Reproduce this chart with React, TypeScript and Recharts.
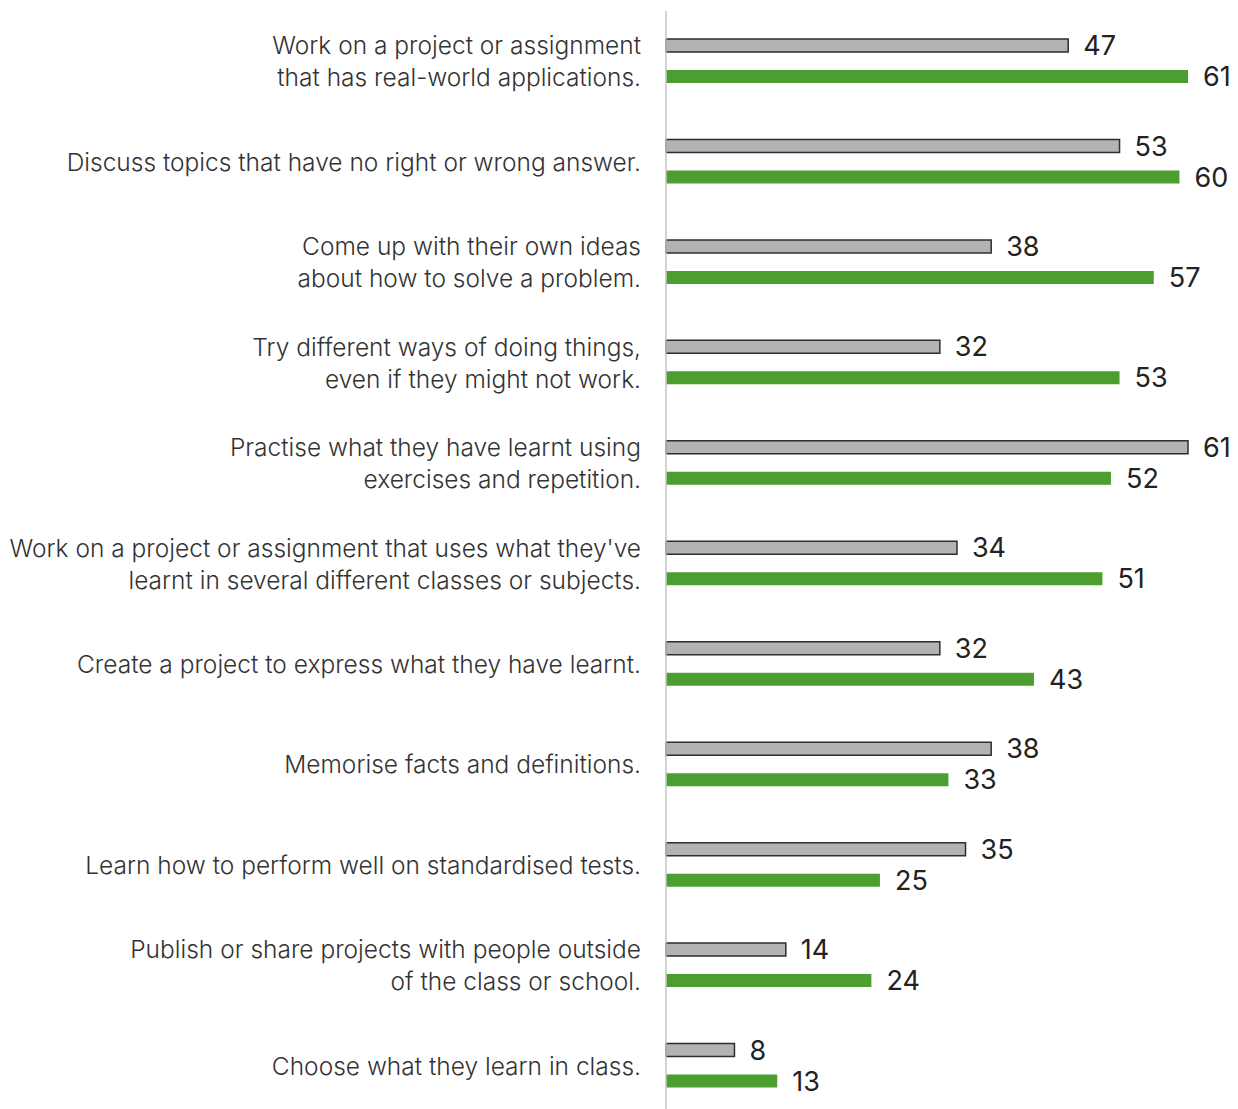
import React from "react";
import { BarChart, Bar, XAxis, YAxis, LabelList } from "recharts";

const categories: string[] = [
  "Work on a project or assignment\nthat has real-world applications.",
  "Discuss topics that have no right or wrong answer.",
  "Come up with their own ideas\nabout how to solve a problem.",
  "Try different ways of doing things,\neven if they might not work.",
  "Practise what they have learnt using\nexercises and repetition.",
  "Work on a project or assignment that uses what they've\nlearnt in several different classes or subjects.",
  "Create a project to express what they have learnt.",
  "Memorise facts and definitions.",
  "Learn how to perform well on standardised tests.",
  "Publish or share projects with people outside\nof the class or school.",
  "Choose what they learn in class.",
];
const greyValues: number[] = [47, 53, 38, 32, 61, 34, 32, 38, 35, 14, 8];
const greenValues: number[] = [61, 60, 57, 53, 52, 51, 43, 33, 25, 24, 13];

const data = categories.map((c, i) => ({ cat: c, grey: greyValues[i], green: greenValues[i] }));

const FONT = "Inter, 'Noto Sans', sans-serif";

const Tick = (props: any) => {
  const { x, y, payload } = props;
  const lines: string[] = String(payload.value).split("\n");
  const lh = 32;
  const start = -((lines.length - 1) * lh) / 2;
  return (
    <text x={x} y={y} textAnchor="end" fill="#333" fontSize={24.5} fontFamily={FONT} fontWeight={300}>
      {lines.map((l, i) => (
        <tspan key={i} x={x} dy={i === 0 ? start + 9 : lh}>
          {l}
        </tspan>
      ))}
    </text>
  );
};

export default function App() {
  return (
    <div style={{ position: "fixed", left: 0, top: 0, background: "#fff" }}>
      <BarChart
        width={1238}
        height={1118}
        data={data}
        layout="vertical"
        margin={{ top: 11, right: 50, bottom: 2, left: 0 }}
        barSize={13}
        barGap={18}
      >
        <XAxis type="number" domain={[0, 61]} hide />
        <YAxis
          type="category"
          dataKey="cat"
          width={666}
          tickLine={false}
          tickSize={0}
          tickMargin={25}
          axisLine={{ stroke: "#c4c4c4", strokeWidth: 1.5 }}
          tick={<Tick />}
          interval={0}
        />
        <Bar dataKey="grey" fill="#b3b3b3" stroke="#2e2e2e" strokeWidth={1.5} isAnimationActive={false}>
          <LabelList dataKey="grey" position="right" offset={15} fill="#222" fontSize={27} fontFamily={FONT} fontWeight={400} />
        </Bar>
        <Bar dataKey="green" fill="#4c9e31" isAnimationActive={false}>
          <LabelList dataKey="green" position="right" offset={15} fill="#222" fontSize={27} fontFamily={FONT} fontWeight={400} />
        </Bar>
      </BarChart>
    </div>
  );
}
